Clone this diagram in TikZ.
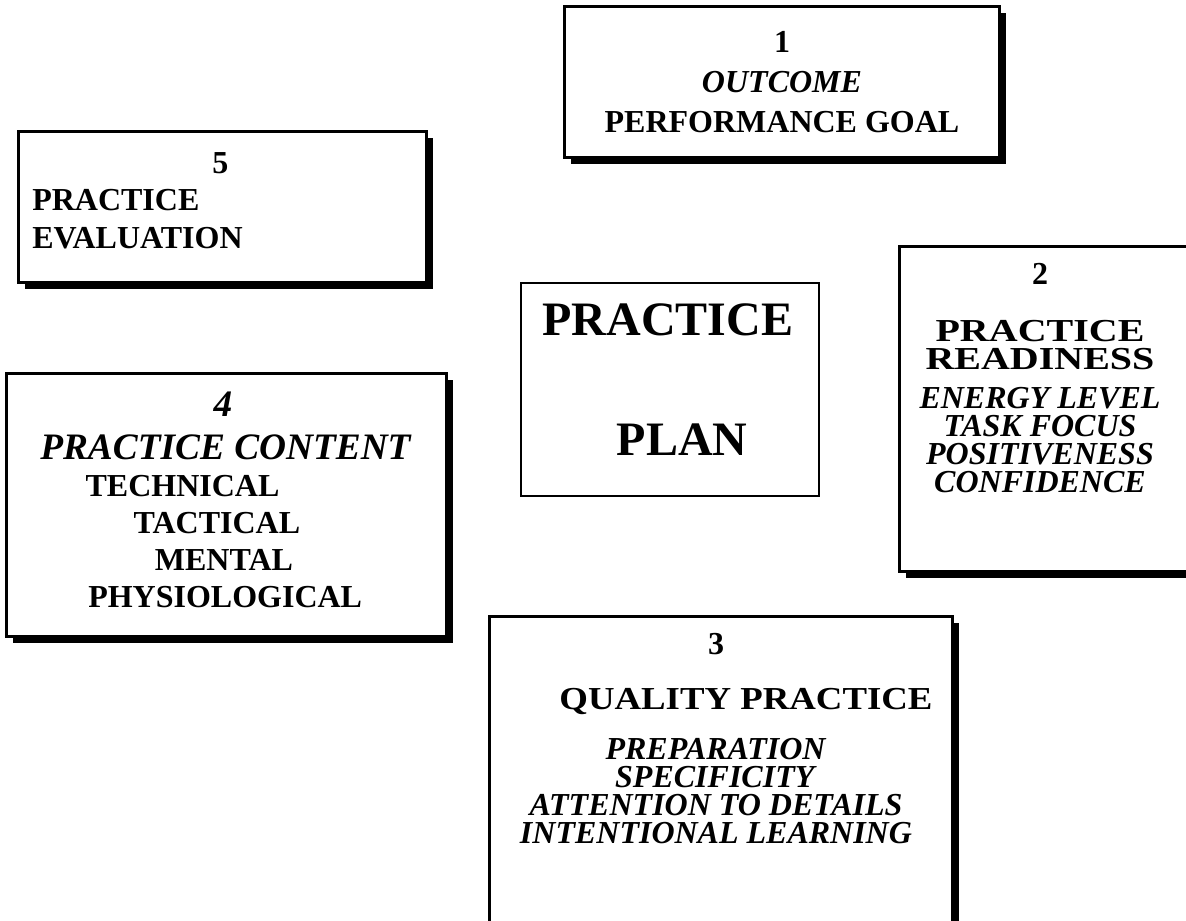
\documentclass[tikz,border=0pt]{standalone}
\usepackage{graphicx}
\usepackage{fontspec}
\setmainfont{Liberation Serif}
\usetikzlibrary{fit,shadows}

\tikzset{
  panel/.style={draw, line width=2.25pt, fill=white, inner sep=0pt,
    drop shadow={shadow xshift=5pt, shadow yshift=-5pt, fill=black, opacity=1}},
  plainpanel/.style={draw, line width=1.5pt, fill=white, inner sep=0pt},
  words/.style={inner sep=0pt, anchor=base, align=center},
}

\begin{document}
\begin{tikzpicture}[x=0.75pt, y=-0.75pt]

\useasboundingbox (0,0) rectangle (1186,921);

% Boxes
\node[panel, fit={(564,6) (999,157)}] (outcome) {};
\node[panel, fit={(18,131) (426,282)}] (evaluation) {};
\node[panel, fit={(6,373) (446,636)}] (content) {};
\node[panel, fit={(899,246) (1205,571)}] (readiness) {};
\node[panel, fit={(489,616) (952,935)}] (quality) {};
\node[plainpanel, fit={(521,283) (819,496)}] (plan) {};

% Text, placed by the baseline of its last line
% Centre
\node[words, font=\fontsize{36}{90}\selectfont\bfseries] (plantext) at (668,455)
  {PRACTICE\\\hspace*{21pt}PLAN};

% 1
\node[words, font=\fontsize{24}{30}\selectfont\bfseries] (outcometext) at (782,132)
  {1\\\textit{OUTCOME}\\PERFORMANCE GOAL};

% 2
\node[words, font=\fontsize{24}{21}\selectfont\bfseries] (readytext) at (1040,492)
  {2\\[21.75pt]
   \scalebox{1.25}[1]{PRACTICE}\\
   \scalebox{1.25}[1]{READINESS}\\[8.25pt]
   \textit{ENERGY LEVEL}\\
   \textit{TASK FOCUS}\\
   \textit{POSITIVENESS}\\
   \textit{CONFIDENCE}};

% 3
\node[words, font=\fontsize{24}{21}\selectfont\bfseries] (qualitytext) at (716,843)
  {3\\[20.25pt]
   \hspace*{45pt}\scalebox{1.15}[1]{QUALITY PRACTICE}\\[16.5pt]
   \textit{PREPARATION}\\
   \textit{SPECIFICITY}\\
   \textit{ATTENTION TO DETAILS}\\
   \textit{INTENTIONAL LEARNING}};

% 4
\node[words, anchor=base west, align=left, font=\fontsize{24}{27.75}\selectfont\bfseries] (contenttext) at (40,607)
  {\hspace*{130pt}{\fontsize{28}{28}\selectfont\itshape 4}\\[4.5pt]
   {\fontsize{28}{28}\selectfont\itshape PRACTICE CONTENT}\\
   \hspace*{34pt}TECHNICAL\\
   \hspace*{70pt}TACTICAL\\
   \hspace*{86pt}MENTAL\\
   \hspace*{36pt}PHYSIOLOGICAL};

% 5
\node[words, anchor=base west, align=left, font=\fontsize{24}{28}\selectfont\bfseries] (evaltext) at (32,248)
  {\hspace*{135pt}5\\PRACTICE\\EVALUATION};

\end{tikzpicture}
\end{document}
